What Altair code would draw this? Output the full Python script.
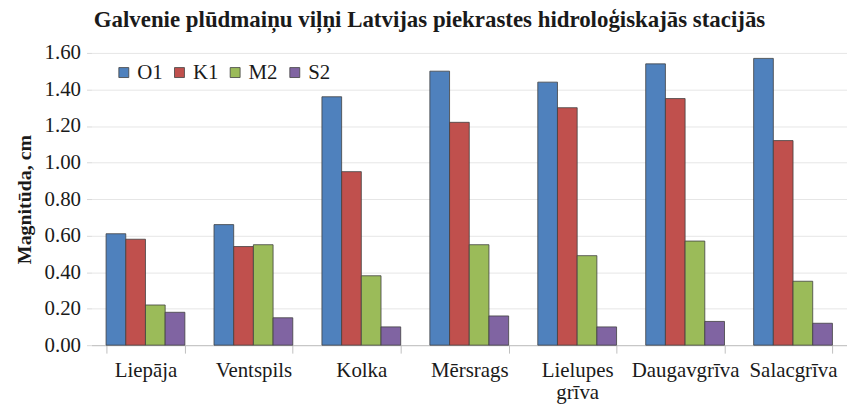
import altair as alt
import pandas as pd

stations = ["Liepāja", "Ventspils", "Kolka", "Mērsrags", "Lielupes grīva", "Daugavgrīva", "Salacgrīva"]
series = ["O1", "K1", "M2", "S2"]
o1 = [0.61, 0.66, 1.36, 1.50, 1.44, 1.54, 1.57]
k1 = [0.58, 0.54, 0.95, 1.22, 1.30, 1.35, 1.12]
m2 = [0.22, 0.55, 0.38, 0.55, 0.49, 0.57, 0.35]
s2 = [0.18, 0.15, 0.10, 0.16, 0.10, 0.13, 0.12]
colors = ["#4F81BD", "#C0504D", "#9BBB59", "#8064A2"]
y_ticks = [0, 0.2, 0.4, 0.6, 0.8, 1.0, 1.2, 1.4, 1.6]

rows = []
for name, vals in zip(series, [o1, k1, m2, s2]):
    for st, v in zip(stations, vals):
        rows.append({"Stacija": st, "Vilnis": name, "Magnitūda": v})
df = pd.DataFrame(rows)

FONT = "Liberation Serif"

chart = alt.Chart(df).mark_bar(stroke="#404040", strokeWidth=0.8).encode(
    x=alt.X("Stacija:N", sort=stations,
            scale=alt.Scale(paddingInner=0.27, paddingOuter=0.135),
            axis=alt.Axis(title=None, labelAngle=0, labelPadding=7,
                          labelExpr="split(datum.label, ' ')",
                          labelLineHeight=22,
                          tickBand="extent", tickColor="#bfbfbf", tickSize=8,
                          domainColor="#bfbfbf", grid=False)),
    xOffset=alt.XOffset("Vilnis:N", sort=series, scale=alt.Scale(paddingInner=0, paddingOuter=0)),
    y=alt.Y("Magnitūda:Q", scale=alt.Scale(domain=[0, 1.6], nice=False),
            axis=alt.Axis(title="Magnitūda, cm", titlePadding=10,
                          values=y_ticks, format=".2f", labelPadding=6,
                          domain=False, tickColor="#d9d9d9", tickSize=5,
                          gridColor="#e6e6e6")),
    color=alt.Color("Vilnis:N", sort=series,
                    scale=alt.Scale(domain=series, range=colors),
                    legend=alt.Legend(title=None, orient="none", legendX=22, legendY=9,
                                      direction="horizontal", symbolType="square",
                                      symbolSize=100, symbolStrokeColor="#404040",
                                      symbolStrokeWidth=0.8,
                                      columnPadding=6, labelOffset=3)),
).properties(
    width=760,
    height=294,
    title=alt.TitleParams("Galvenie plūdmaiņu viļņi Latvijas piekrastes hidroloģiskajās stacijās",
                          fontSize=23, fontWeight="bold", color="#1a1a1a",
                          anchor="middle", dx=-40, offset=10),
    autosize=alt.AutoSizeParams(type="none"),
    padding={"left": 84, "top": 44, "right": 0, "bottom": 58},
).configure(
    font=FONT
).configure_axis(
    labelFont=FONT, labelFontSize=21, labelColor="#1a1a1a",
    titleFont=FONT, titleFontSize=20, titleFontWeight="bold", titleColor="#1a1a1a",
).configure_legend(
    labelFont=FONT, labelFontSize=21, labelColor="#1a1a1a",
).configure_title(
    font=FONT
).configure_view(stroke=None)

chart.save("out.html", embed_options={"renderer": "svg", "actions": False})
